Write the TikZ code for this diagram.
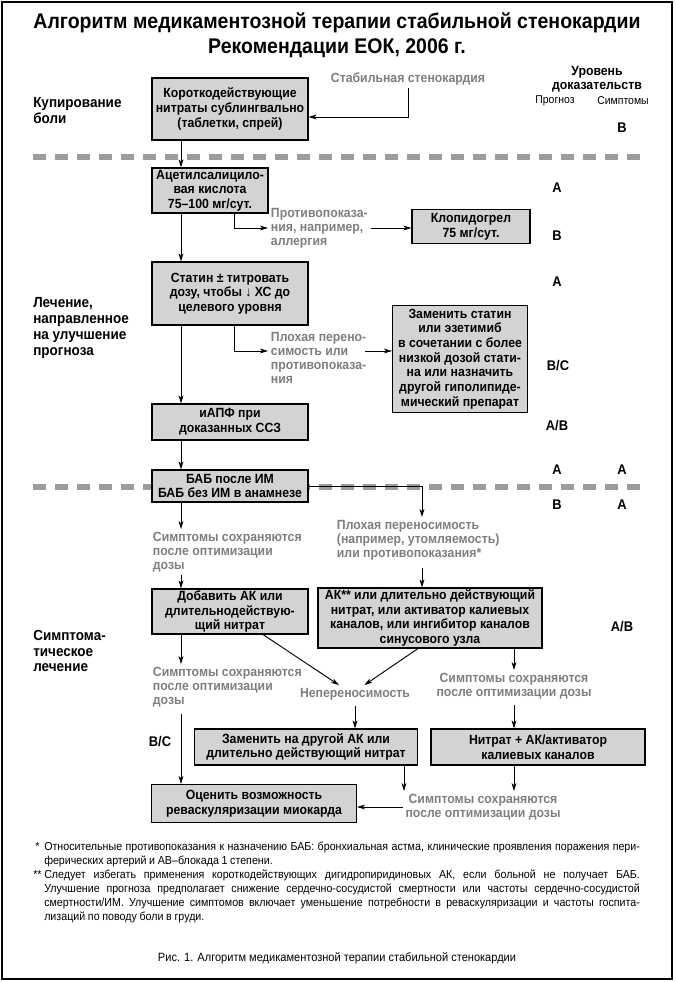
\documentclass[tikz,border=0pt]{standalone}
\usepackage{fontspec}
\setmainfont{Liberation Sans}[FakeStretch=0.92]
\usetikzlibrary{arrows.meta}
\definecolor{boxgray}{HTML}{D3D3D3}
\definecolor{txtgray}{HTML}{7E7E7E}
\definecolor{dashgray}{HTML}{9C9C9C}
\begin{document}
\begin{tikzpicture}[x=0.75pt,y=-0.75pt,
  box/.style={draw=black, line width=0.8pt, fill=boxgray, inner sep=0pt, align=center, font=\bfseries\fontsize{10}{11}\selectfont},
  gtext/.style={text=txtgray, inner sep=2pt, font=\bfseries\fontsize{10}{10.5}\selectfont},
  sec/.style={anchor=west, align=left, inner sep=0pt, font=\bfseries\fontsize{11}{11.8}\selectfont},
  ev/.style={inner sep=0pt, font=\bfseries\fontsize{10.5}{12}\selectfont},
  arr/.style={-{Stealth[length=6pt,width=3.6pt,inset=1.6pt]}, line width=0.7pt},
  sep/.style={dashgray, line width=3.8pt, dash pattern=on 9.75pt off 6.75pt},
  foot/.style={inner sep=0pt, font=\fontsize{8.7}{10.5}\selectfont},
  capt/.style={inner sep=0pt, font=\fontsize{9}{10.5}\selectfont}
]
\useasboundingbox (0,0) rectangle (675,982);
\draw[line width=0.8pt] (2,2) rectangle (672,979);

% separators
\draw[sep] (33,157) -- (640,157);
\draw[sep] (33,487) -- (640,487);

% title
\node[font=\bfseries\fontsize{15.9}{18.75}\selectfont, align=center, inner sep=0pt] (title) at (337,35) {Алгоритм медикаментозной терапии стабильной стенокардии\\Рекомендации ЕОК, 2006 г.};

% level of evidence header
\node[align=center, inner sep=0pt, font=\bfseries\fontsize{10}{10.5}\selectfont] (lvl) at (597,79) {Уровень\\доказательств};
\node[inner sep=0pt, font=\fontsize{8.5}{10}\selectfont] (prog) at (555,100.5) {Прогноз};
\node[inner sep=0pt, font=\fontsize{8.5}{10}\selectfont] (symp) at (623,100.5) {Симптомы};

% section labels
\node[sec] (s1) at (33,110.5) {Купирование\\боли};
\node[sec] (s2) at (33,328) {Лечение,\\направленное\\на улучшение\\прогноза};
\node[sec] (s3) at (33,651) {Симптома-\\тическое\\лечение};

% helper coordinates
\coordinate (spine) at (181,0);
\coordinate (brA) at (234,0);
\coordinate (br3) at (422,0);
\coordinate (br7) at (263,0);
\coordinate (br8) at (418,0);
\coordinate (br8b) at (514,0);
\coordinate (br9) at (404,0);
\coordinate (ci2out) at (365,351);

% boxes
\node[box, minimum width=156*0.75pt, minimum height=62*0.75pt] (b1) at (230,109) {Короткодействующие\\нитраты сублингвально\\(таблетки, спрей)};
\node[box, minimum width=116*0.75pt, minimum height=45*0.75pt] (b2) at (210,190.5) {Ацетилсалицило-\\вая кислота\\75–100 мг/сут.};
\node[box, minimum width=118*0.75pt, minimum height=34*0.75pt] (clop) at (471,226.5) {Клопидогрел\\75 мг/сут.};
\node[box, minimum width=156*0.75pt, minimum height=63*0.75pt] (b3) at (230,293.5) {Статин ± титровать\\дозу, чтобы ↓ ХС до\\целевого уровня};
\node[box, minimum width=135*0.75pt, minimum height=107*0.75pt] (b5) at (460,359) {Заменить статин\\или эзетимиб\\в сочетании с более\\низкой дозой стати-\\на или назначить\\другой гиполипиде-\\мический препарат};
\node[box, minimum width=156*0.75pt, minimum height=36*0.75pt] (b4) at (230,422) {иАПФ при\\доказанных ССЗ};
\node[box, minimum width=156*0.75pt, minimum height=32*0.75pt] (b6) at (230,486) {БАБ после ИМ\\БАБ без ИМ в анамнезе};
\node[box, minimum width=156*0.75pt, minimum height=45*0.75pt] (b7) at (230,611.5) {Добавить АК или\\длительнодействую-\\щий нитрат};
\node[box, minimum width=224*0.75pt, minimum height=60*0.75pt] (b8) at (430,618) {АК** или длительно действующий\\нитрат, или активатор калиевых\\каналов, или ингибитор каналов\\синусового узла};
\node[box, minimum width=223*0.75pt, minimum height=36*0.75pt] (b9) at (306,747) {Заменить на другой АК или\\длительно действующий нитрат};
\node[box, minimum width=214*0.75pt, minimum height=36*0.75pt] (b10) at (538,747) {Нитрат + АК/активатор\\калиевых каналов};
\node[box, minimum width=205*0.75pt, minimum height=38*0.75pt] (b11) at (254,803.5) {Оценить возможность\\реваскуляризации миокарда};

% gray texts
\node[gtext] (st) at (408,79) {Стабильная стенокардия};
\node[gtext, anchor=west, align=left] (ci1) at (268,228) {Противопоказа-\\ния, например,\\аллергия};
\node[gtext, anchor=west, align=left] (ci2) at (268,358) {Плохая перено-\\симость или\\противопоказа-\\ния};
\node[gtext, anchor=west, align=left] (ci3) at (334,540) {Плохая переносимость\\(например, утомляемость)\\или противопоказания*};
\node[gtext, anchor=west, align=left] (ci4) at (150,552) {Симптомы сохраняются\\после оптимизации\\дозы};
\node[gtext, anchor=west, align=left] (ci5) at (150,687) {Симптомы сохраняются\\после оптимизации\\дозы};
\node[gtext] (nep) at (355,694) {Непереносимость};
\node[gtext, align=center] (ci6) at (514,686) {Симптомы сохраняются\\после оптимизации дозы};
\node[gtext, align=center] (ci7) at (483,807) {Симптомы сохраняются\\после оптимизации дозы};

% evidence levels
\node[ev] (e1) at (622,128) {B};
\node[ev] (e2) at (557,188) {A};
\node[ev] (e3) at (557,236) {B};
\node[ev] (e4) at (557,282) {A};
\node[ev] (e5) at (558,366) {B/C};
\node[ev] (e6) at (557,426) {A/B};
\node[ev] (e7) at (557,470) {A};
\node[ev] (e8) at (622,470) {A};
\node[ev] (e9) at (557,505) {B};
\node[ev] (e10) at (622,505) {A};
\node[ev] (e11) at (622,627) {A/B};
\node[ev] (e12) at (160,742) {B/C};

% connectors
\draw[arr] (st.south) |- ([yshift=-6pt]b1.east);
\draw[arr] (b1.south -| spine) -- (b2.north -| spine);
\draw[arr] (b2.south -| spine) -- (b3.north -| spine);
\draw[arr] (b2.south -| brA) |- (ci1.west);
\draw[arr] (ci1.east) -- (ci1.east -| clop.west);
\draw[arr] (b3.south -| spine) -- (b4.north -| spine);
\draw[arr] (b3.south -| brA) |- (ci2.west |- ci2out);
\draw[arr] (ci2out) -- (ci2out -| b5.west);
\draw[arr] (b4.south -| spine) -- (b6.north -| spine);
\draw[arr] (b6.east) -| (ci3.north -| br3);
\draw[arr] ([yshift=-4pt]ci3.south -| br3) -- (b8.north -| br3);
\draw[arr] (b6.south -| spine) -- (ci4.north -| spine);
\draw[arr] (ci4.south -| spine) -- (b7.north -| spine);
\draw[arr] (b7.south -| spine) -- (ci5.north -| spine);
\draw[arr] ([yshift=-3pt]ci5.south -| spine) -- (b11.north -| spine);
\draw[arr] (b7.south -| br7) -- ([xshift=-12pt]nep.north);
\draw[arr] (b8.south -| br8) -- ([xshift=7pt]nep.north);
\draw[arr] (b8.south -| br8b) -- (ci6.north -| br8b);
\draw[arr] ([yshift=-2pt]nep.south) -- (b9.north -| nep.south);
\draw[arr] ([yshift=-2pt]ci6.south -| br8b) -- (b10.north -| br8b);
\draw[arr] (b9.south -| br9) -- (ci7.north -| br9);
\draw[arr] (b10.south -| br8b) -- (ci7.north -| br8b);
\draw[arr] (ci7.west) -- (ci7.west -| b11.east);

% footnotes
\node[foot, anchor=north west, text width=455pt, align=left] (fn) at (33,842) {%
\spaceskip=.23em plus 1em minus .04em
\hbox to 455pt{\makebox[8.25pt][l]{\hspace{1.5pt}*}Относительные противопоказания к назначению БАБ: бронхиальная астма, клинические проявления поражения пери-}
\hbox to 455pt{\hspace*{8.25pt}ферических артерий и АВ–блокада 1 степени.\hfil}
\hbox to 455pt{\makebox[8.25pt][l]{**}Следует избегать применения короткодействующих дигидропиридиновых АК, если больной не получает БАБ.}
\hbox to 455pt{\hspace*{8.25pt}Улучшение прогноза предполагает снижение сердечно-сосудистой смертности или частоты сердечно-сосудистой}
\hbox to 455pt{\hspace*{8.25pt}смертности/ИМ. Улучшение симптомов включает уменьшение потребности в реваскуляризации и частоты госпита-}
\hbox to 455pt{\hspace*{8.25pt}лизаций по поводу боли в груди.\hfil}};
\node[capt] (cap) at (337,958) {Рис. 1. Алгоритм медикаментозной терапии стабильной стенокардии};
\end{tikzpicture}
\end{document}
